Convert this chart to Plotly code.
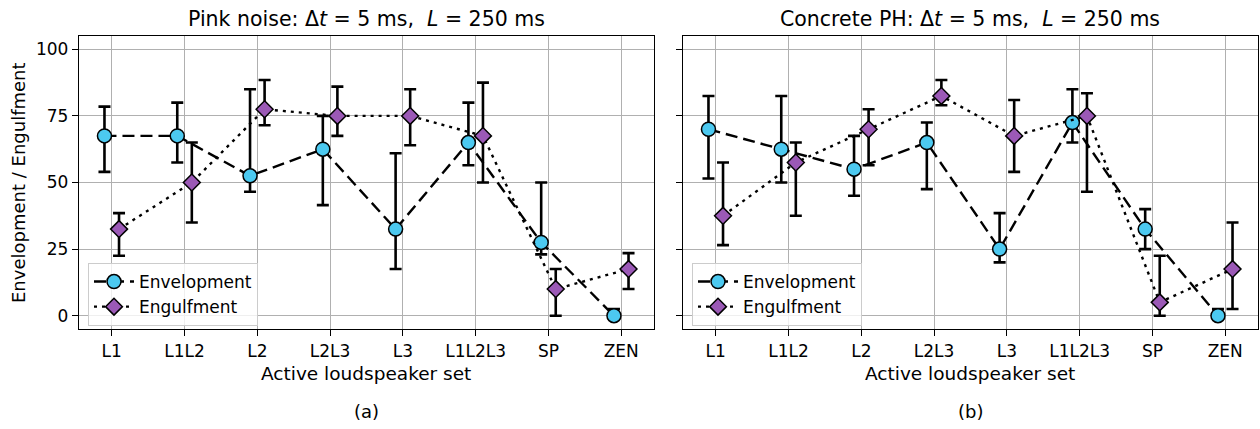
import plotly.graph_objects as go

categories = ["L1", "L1L2", "L2", "L2L3", "L3", "L1L2L3", "SP", "ZEN"]
y_ticks = [0, 25, 50, 75, 100]

# Panel (a): Pink noise
pink_env = [67.5, 67.5, 52.5, 62.5, 32.5, 65.0, 27.5, 0.0]
pink_env_hi = [78.5, 80.0, 85.0, 75.0, 61.0, 80.0, 50.0, 2.5]
pink_env_lo = [54.0, 57.5, 46.5, 41.5, 17.5, 56.5, 23.0, 0.0]
pink_eng = [32.5, 50.0, 77.5, 75.0, 75.0, 67.5, 10.0, 17.5]
pink_eng_hi = [38.5, 65.0, 88.5, 86.0, 85.0, 87.5, 17.5, 23.5]
pink_eng_lo = [22.5, 35.0, 71.5, 67.5, 64.0, 50.0, 0.0, 10.0]

# Panel (b): Concrete PH
conc_env = [70.0, 62.5, 55.0, 65.0, 25.0, 72.5, 32.5, 0.0]
conc_env_hi = [82.5, 82.5, 67.5, 72.5, 38.5, 85.0, 40.0, 2.5]
conc_env_lo = [51.5, 50.0, 45.0, 47.5, 20.0, 65.0, 25.0, 0.0]
conc_eng = [37.5, 57.5, 70.0, 82.5, 67.5, 75.0, 5.0, 17.5]
conc_eng_hi = [57.5, 65.0, 77.5, 88.5, 81.0, 83.5, 22.5, 35.0]
conc_eng_lo = [26.5, 37.5, 56.5, 79.0, 54.0, 46.5, 0.0, 2.5]

ENV_COLOR = "#4cc9f0"
ENG_COLOR = "#9b59b6"
FONT = "DejaVu Sans"
OFFSET = 0.1

W, H = 1260, 429
fig = go.Figure()

def add_panel(n, env, env_hi, env_lo, eng, eng_hi, eng_lo, legend):
    xa = "x" if n == 1 else "x2"
    ya = "y" if n == 1 else "y2"
    idx = list(range(len(categories)))
    fig.add_trace(go.Scatter(
        x=[i - OFFSET for i in idx], y=env, xaxis=xa, yaxis=ya,
        mode="lines+markers", name="Envelopment", legend=legend,
        line=dict(color="black", width=2.4, dash="12px,6px"),
        marker=dict(symbol="circle", size=14, color=ENV_COLOR,
                    line=dict(color="black", width=1.5)),
        error_y=dict(type="data", symmetric=False,
                     array=[h - v for h, v in zip(env_hi, env)],
                     arrayminus=[v - l for v, l in zip(env, env_lo)],
                     color="black", thickness=2.6, width=6),
    ))
    fig.add_trace(go.Scatter(
        x=[i + OFFSET for i in idx], y=eng, xaxis=xa, yaxis=ya,
        mode="lines+markers", name="Engulfment", legend=legend,
        line=dict(color="black", width=2.4, dash="3px,5px"),
        marker=dict(symbol="diamond", size=13, color=ENG_COLOR,
                    line=dict(color="black", width=1.5)),
        error_y=dict(type="data", symmetric=False,
                     array=[h - v for h, v in zip(eng_hi, eng)],
                     arrayminus=[v - l for v, l in zip(eng, eng_lo)],
                     color="black", thickness=2.6, width=6),
    ))

add_panel(1, pink_env, pink_env_hi, pink_env_lo, pink_eng, pink_eng_hi, pink_eng_lo, "legend")
add_panel(2, conc_env, conc_env_hi, conc_env_lo, conc_eng, conc_eng_hi, conc_eng_lo, "legend2")

def px_x(p):
    return p / W

def px_y(p):
    return 1 - p / H

axis_common = dict(
    showline=True, linecolor="black", linewidth=1.3, mirror=True,
    showgrid=True, gridcolor="#b0b0b0", gridwidth=1,
    ticks="outside", ticklen=6, tickwidth=1.2, tickcolor="black",
    zeroline=False, tickfont=dict(family=FONT, size=17, color="black"),
)

ydom = [px_y(329), px_y(36)]
fig.update_layout(
    width=W, height=H,
    margin=dict(l=0, r=0, t=0, b=0),
    paper_bgcolor="white", plot_bgcolor="white",
    showlegend=True,
    font=dict(family=FONT, color="black"),
    xaxis=dict(domain=[px_x(79), px_x(654)], range=[-0.45, 7.45],
               tickvals=list(range(len(categories))), ticktext=categories,
               anchor="y", **axis_common),
    yaxis=dict(domain=ydom, range=[-5, 105], tickvals=y_ticks,
               anchor="x", **axis_common),
    xaxis2=dict(domain=[px_x(683), px_x(1258)], range=[-0.45, 7.45],
                tickvals=list(range(len(categories))), ticktext=categories,
                anchor="y2", **axis_common),
    yaxis2=dict(domain=ydom, range=[-5, 105], tickvals=y_ticks,
                showticklabels=False, anchor="x2", **axis_common),
    legend=dict(x=px_x(88), y=px_y(263), xanchor="left", yanchor="top",
                bgcolor="rgba(255,255,255,0.8)", bordercolor="#cccccc", borderwidth=1,
                font=dict(family=FONT, size=17, color="black"),
                tracegroupgap=0, itemwidth=40),
    legend2=dict(x=px_x(692), y=px_y(263), xanchor="left", yanchor="top",
                 bgcolor="rgba(255,255,255,0.8)", bordercolor="#cccccc", borderwidth=1,
                 font=dict(family=FONT, size=17, color="black"),
                 tracegroupgap=0, itemwidth=40),
)

annots = [
    dict(text="Pink noise: Δ<i>t</i> = 5 ms,  <i>L</i> = 250 ms", x=px_x(366), y=px_y(19), size=20.5),
    dict(text="Concrete PH: Δ<i>t</i> = 5 ms,  <i>L</i> = 250 ms", x=px_x(970), y=px_y(19), size=20.5),
    dict(text="Active loudspeaker set", x=px_x(366), y=px_y(373), size=18.5),
    dict(text="Active loudspeaker set", x=px_x(970), y=px_y(373), size=18.5),
    dict(text="(a)", x=px_x(366), y=px_y(411), size=18),
    dict(text="(b)", x=px_x(970), y=px_y(411), size=18),
]
for a in annots:
    fig.add_annotation(text=a["text"], x=a["x"], y=a["y"], xref="paper", yref="paper",
                       xanchor="center", yanchor="middle", showarrow=False,
                       font=dict(family=FONT, size=a["size"], color="black"))
fig.add_annotation(text="Envelopment / Engulfment", x=px_x(18), y=px_y(183),
                   xref="paper", yref="paper", xanchor="center", yanchor="middle",
                   showarrow=False, textangle=-90,
                   font=dict(family=FONT, size=18, color="black"))

fig.write_html("out.html", config={"displayModeBar": False},
               post_script="document.body.style.margin='0px';document.body.style.overflow='hidden';")
